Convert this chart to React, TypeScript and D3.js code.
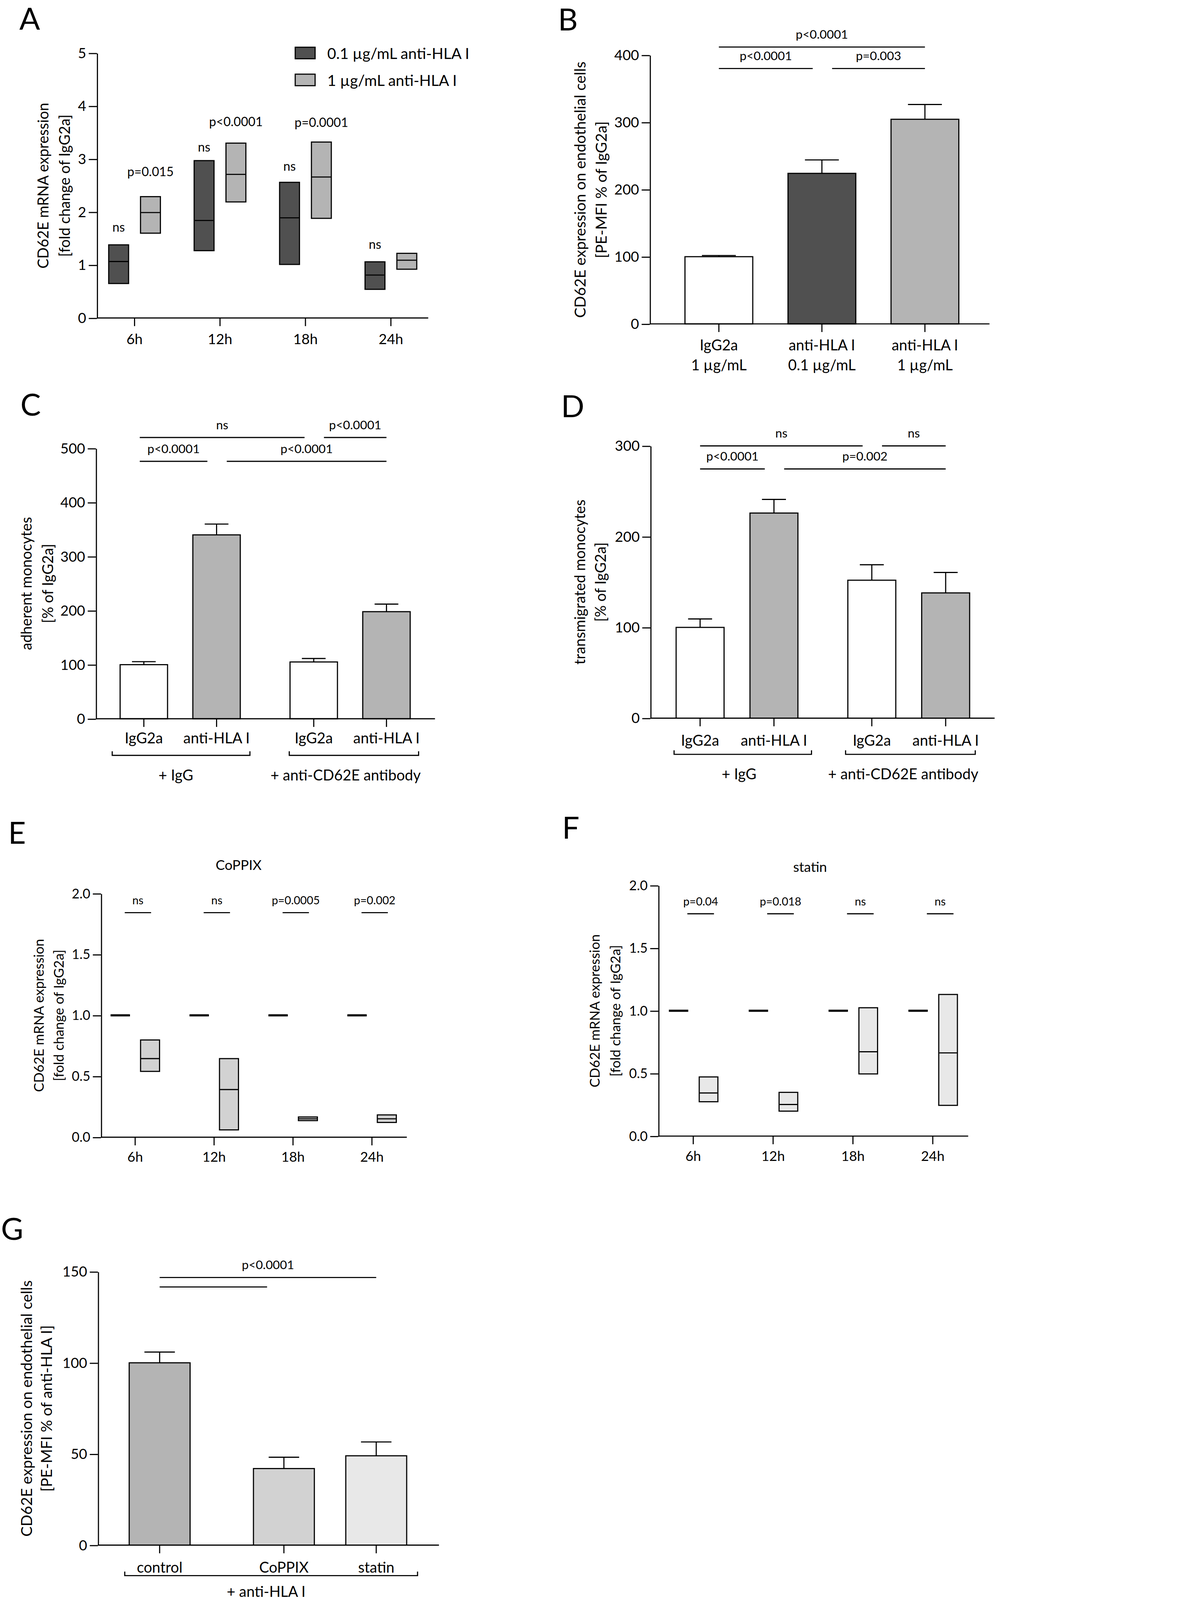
import React, { useEffect, useRef } from 'react';
import * as d3 from 'd3';

// ---------- data ----------
const timepoints = ['6h', '12h', '18h', '24h'];

// A: CD62E mRNA, floating bars (min / median / max)
const aLegend = ['0.1 µg/mL anti-HLA I', '1 µg/mL anti-HLA I'];
const aLowMin = [0.65, 1.27, 1.01, 0.54];
const aLowMedian = [1.065, 1.84, 1.89, 0.81];
const aLowMax = [1.38, 2.97, 2.56, 1.06];
const aHighMin = [1.6, 2.19, 1.88, 0.92];
const aHighMedian = [1.99, 2.71, 2.66, 1.09];
const aHighMax = [2.29, 3.3, 3.32, 1.22];
const aLowP = ['ns', 'ns', 'ns', 'ns'];
const aLowPLevel = [1.72, 3.23, 2.87, 1.4];
const aHighP = ['p=0.015', 'p<0.0001', 'p=0.0001', ''];
const aHighPLevel = [2.77, 3.71, 3.7, 0];
const aTicks = [0, 1, 2, 3, 4, 5];

// B: CD62E surface expression
const bLabels = [['IgG2a', '1 µg/mL'], ['anti-HLA I', '0.1 µg/mL'], ['anti-HLA I', '1 µg/mL']];
const bMeans = [100, 224, 304.5];
const bSem = [1.7, 20, 22];
const bTicks = [0, 100, 200, 300, 400];
const bSig = [
  { from: 0, to: 2, level: 412, label: 'p<0.0001' },
  { from: 0, to: 1, level: 380, label: 'p<0.0001' },
  { from: 1, to: 2, level: 380, label: 'p=0.003' },
];

// C: adherent monocytes
const cdLabels = ['IgG2a', 'anti-HLA I', 'IgG2a', 'anti-HLA I'];
const cdGroups = ['+ IgG', '+ anti-CD62E antibody'];
const cMeans = [100, 340, 105, 198];
const cSem = [5.5, 20, 6.4, 14];
const cTicks = [0, 100, 200, 300, 400, 500];
const cSig = [
  { from: 0, to: 2, level: 520, label: 'ns' },
  { from: 2, to: 3, level: 520, label: 'p<0.0001' },
  { from: 0, to: 1, level: 476, label: 'p<0.0001' },
  { from: 1, to: 3, level: 476, label: 'p<0.0001' },
];

// D: transmigrated monocytes
const dMeans = [100, 226, 152, 138];
const dSem = [9.3, 15, 17, 22.5];
const dTicks = [0, 100, 200, 300];
const dSig = [
  { from: 0, to: 2, level: 300, label: 'ns' },
  { from: 2, to: 3, level: 300, label: 'ns' },
  { from: 0, to: 1, level: 274.6, label: 'p<0.0001' },
  { from: 1, to: 3, level: 274.6, label: 'p=0.002' },
];

// E: CoPPIX
const efTicks = [0, 0.5, 1, 1.5, 2];
const eControl = [1, 1, 1, 1];
const eMin = [0.54, 0.06, 0.136, 0.121];
const eMedian = [0.645, 0.391, 0.151, 0.151];
const eMax = [0.798, 0.645, 0.166, 0.183];
const eP = ['ns', 'ns', 'p=0.0005', 'p=0.002'];
const eSigLevel = 1.843;

// F: statin
const fControl = [1, 1, 1, 1];
const fMin = [0.274, 0.199, 0.496, 0.245];
const fMedian = [0.344, 0.252, 0.673, 0.664];
const fMax = [0.472, 0.349, 1.024, 1.13];
const fP = ['p=0.04', 'p=0.018', 'ns', 'ns'];
const fSigLevel = 1.774;

// G: CD62E surface expression after treatment
const gLabels = ['control', 'CoPPIX', 'statin'];
const gMeans = [100, 42, 49];
const gSem = [5.9, 6.2, 7.6];
const gTicks = [0, 50, 100, 150];
const gSig = [
  { from: 0, to: 2, level: 146.8, label: 'p<0.0001' },
  { from: 0, to: 1, level: 141.6, label: '' },
];

// ---------- drawing ----------
const VW = 976;
const VH = (4871 * 976) / 3031;
const FONT = 'Lato, "Open Sans", sans-serif';
const DARK = '#505050';
const MID = '#b4b4b4';
const LIGHT = '#d2d2d2';
const PALE = '#e8e8e8';
const SW = 1.1;

type G = d3.Selection<SVGGElement, unknown, null, undefined>;
type Sig = { from: number; to: number; level: number; label: string };

function addText(g: G, x: number, y: number, s: string, size: number, anchor = 'middle') {
  return g.append('text')
    .attr('x', x).attr('y', y)
    .attr('text-anchor', anchor)
    .attr('dominant-baseline', 'central')
    .attr('font-family', FONT)
    .attr('font-size', size)
    .attr('fill', '#000')
    .text(s);
}

function panelLetter(g: G, x: number, baseline: number, s: string) {
  g.append('text').attr('x', x).attr('y', baseline)
    .attr('font-family', FONT).attr('font-size', 30).attr('fill', '#000').text(s);
}

function yAxis(g: G, y: d3.ScaleLinear<number, number>, ticks: number[], x0: number, fmt: (d: number) => string, size = 14) {
  const ax = g.append('g')
    .attr('transform', `translate(${x0},0)`)
    .call(d3.axisLeft(y).tickValues(ticks).tickSize(8).tickSizeOuter(0).tickPadding(2.5)
      .tickFormat((d) => fmt(+d)));
  ax.attr('font-family', FONT).attr('font-size', size);
  ax.selectAll('path, line').attr('stroke', '#000').attr('stroke-width', SW);
  ax.selectAll('text').attr('fill', '#000');
}

function xAxis(g: G, centers: number[], y0: number, x0: number, x1: number) {
  g.append('line').attr('x1', x0).attr('x2', x1).attr('y1', y0).attr('y2', y0)
    .attr('stroke', '#000').attr('stroke-width', SW);
  centers.forEach((c) => {
    g.append('line').attr('x1', c).attr('x2', c).attr('y1', y0).attr('y2', y0 + 8)
      .attr('stroke', '#000').attr('stroke-width', SW);
  });
}

function yTitle(g: G, lines: string[], xs: number[], cy: number, size = 14.5) {
  lines.forEach((s, i) => {
    g.append('text')
      .attr('transform', `translate(${xs[i]},${cy}) rotate(-90)`)
      .attr('text-anchor', 'middle').attr('dominant-baseline', 'central')
      .attr('font-family', FONT).attr('font-size', size).attr('fill', '#000')
      .text(s);
  });
}

function bars(g: G, centers: number[], means: number[], sems: number[], y: d3.ScaleLinear<number, number>, w: number, fills: string[]) {
  means.forEach((m, i) => {
    const c = centers[i];
    const top = y(m + sems[i]);
    g.append('line').attr('x1', c).attr('x2', c).attr('y1', y(m)).attr('y2', top)
      .attr('stroke', '#000').attr('stroke-width', SW);
    g.append('line').attr('x1', c - w / 4).attr('x2', c + w / 4).attr('y1', top).attr('y2', top)
      .attr('stroke', '#000').attr('stroke-width', SW);
    g.append('rect').attr('x', c - w / 2).attr('y', y(m)).attr('width', w).attr('height', y(0) - y(m))
      .attr('fill', fills[i]).attr('stroke', '#000').attr('stroke-width', SW);
  });
}

function floatBox(g: G, c: number, w: number, lo: number, med: number, hi: number, y: d3.ScaleLinear<number, number>, fill: string) {
  g.append('rect').attr('x', c - w / 2).attr('y', y(hi)).attr('width', w).attr('height', y(lo) - y(hi))
    .attr('fill', fill).attr('stroke', '#000').attr('stroke-width', SW);
  g.append('line').attr('x1', c - w / 2).attr('x2', c + w / 2).attr('y1', y(med)).attr('y2', y(med))
    .attr('stroke', '#000').attr('stroke-width', SW);
}

function sigLines(g: G, sigs: Sig[], xOf: (i: number) => number, y: d3.ScaleLinear<number, number>, size: number, endTrim: number[] = []) {
  sigs.forEach((s, k) => {
    const shareStart = sigs.some((o) => o !== s && o.level === s.level && o.to === s.from);
    const shareEnd = sigs.some((o) => o !== s && o.level === s.level && o.from === s.to);
    const x1 = xOf(s.from) + (shareStart ? 10 : 0);
    const x2 = xOf(s.to) - (shareEnd ? 9 : 0) - (endTrim[k] || 0);
    const yy = y(s.level);
    g.append('line').attr('x1', x1).attr('x2', x2).attr('y1', yy).attr('y2', yy)
      .attr('stroke', '#000').attr('stroke-width', SW);
    if (s.label) addText(g, (x1 + x2) / 2, yy - 12.7, s.label, size);
  });
}

function bracket(g: G, x1: number, x2: number, yb: number, label: string, ly: number, lx: number) {
  g.append('path')
    .attr('d', `M${x1},${yb - 4}V${yb}H${x2}V${yb - 4}`)
    .attr('fill', 'none').attr('stroke', '#000').attr('stroke-width', SW);
  addText(g, lx, ly, label, 14.5);
}

export default function App() {
  const svgRef = useRef<SVGSVGElement>(null);

  useEffect(() => {
    if (!svgRef.current) return;
    document.documentElement.style.overflow = 'hidden';
    document.body.style.margin = '0';
    const svg = d3.select(svgRef.current);
    svg.selectAll('*').remove();
    const root = svg.append('g') as unknown as G;

    // ---------- A ----------
    {
      const g = root.append('g') as G;
      panelLetter(g, 19, 29, 'A');
      const y = d3.scaleLinear().domain([0, 5]).range([311.7, 52]);
      const x = d3.scalePoint<string>().domain(timepoints).range([131.9, 383.2]);
      const off = 15.6;
      const w = 19.5;
      timepoints.forEach((t, i) => {
        const c = x(t)!;
        floatBox(g, c - off, w, aLowMin[i], aLowMedian[i], aLowMax[i], y, DARK);
        floatBox(g, c + off, w, aHighMin[i], aHighMedian[i], aHighMax[i], y, MID);
        if (aLowP[i]) addText(g, c - off, y(aLowPLevel[i]), aLowP[i], 12.3);
        if (aHighP[i]) addText(g, c + off, y(aHighPLevel[i]), aHighP[i], 12.3);
        addText(g, c, 332, t, 14);
      });
      yAxis(g, y, aTicks, 95, (d) => String(d));
      xAxis(g, timepoints.map((t) => x(t)!), y(0), 95, 419.8);
      yTitle(g, ['CD62E mRNA expression', '[fold change of IgG2a]'], [42, 63], 182);
      [DARK, MID].forEach((f, i) => {
        g.append('rect').attr('x', 289.4).attr('y', 46.3 + i * 26.4).attr('width', 19.5).attr('height', 11.3)
          .attr('fill', f).attr('stroke', '#000').attr('stroke-width', SW);
        addText(g, 320.8, 52 + i * 26.4, aLegend[i], 15, 'start');
      });
    }

    // ---------- B ----------
    {
      const g = root.append('g') as G;
      panelLetter(g, 547, 30, 'B');
      const y = d3.scaleLinear().domain([0, 400]).range([317.5, 54]);
      const idx = bLabels.map((_, i) => String(i));
      const x = d3.scaleBand<string>().domain(idx).range([654.2, 957.2]).paddingInner(0.342).paddingOuter(0.171);
      const cx = (i: number) => x(String(i))! + x.bandwidth() / 2;
      const centers = idx.map((_, i) => cx(i));
      bars(g, centers, bMeans, bSem, y, x.bandwidth(), ['#ffffff', DARK, MID]);
      yAxis(g, y, bTicks, 637, (d) => String(d));
      xAxis(g, centers, y(0), 637, 970);
      bLabels.forEach((l, i) => {
        addText(g, centers[i], 338, l[0], 14.5);
        addText(g, centers[i], 357.5, l[1], 14.5);
      });
      sigLines(g, bSig, cx, y, 12);
      yTitle(g, ['CD62E expression on endothelial cells', '[PE-MFI % of IgG2a]'], [568, 588.7], 186, 15);
    }

    // ---------- C and D ----------
    const slot = (i: number, gap: number) => i + (i >= 2 ? gap : 0);
    {
      const g = root.append('g') as G;
      panelLetter(g, 20, 407.6, 'C');
      const y = d3.scaleLinear().domain([0, 500]).range([704.6, 439.5]);
      const xs = d3.scaleLinear().domain([0, 1]).range([141, 212.3]);
      const cx = (i: number) => xs(slot(i, 0.336));
      const centers = cdLabels.map((_, i) => cx(i));
      bars(g, centers, cMeans, cSem, y, 46.5, ['#ffffff', MID, '#ffffff', MID]);
      yAxis(g, y, cTicks, 94, (d) => String(d));
      xAxis(g, centers, y(0), 94, 426.4);
      cdLabels.forEach((l, i) => addText(g, centers[i], 723, l, 14.5));
      sigLines(g, cSig, (i) => (i === 0 ? cx(i) - 4 : cx(i)), y, 12);
      bracket(g, centers[0] - 31, centers[1] + 32.7, 740.5, cdGroups[0], 759.4, 172.4);
      bracket(g, centers[2] - 24, centers[3] + 31.5, 740.5, cdGroups[1], 759.4, 338.8);
      yTitle(g, ['adherent monocytes', '[% of IgG2a]'], [25.5, 46.5], 572);
    }
    {
      const g = root.append('g') as G;
      panelLetter(g, 550, 408.8, 'D');
      const y = d3.scaleLinear().domain([0, 300]).range([704, 437.1]);
      const xs = d3.scaleLinear().domain([0, 1]).range([686.3, 758.7]);
      const cx = (i: number) => xs(slot(i, 0.325));
      const centers = cdLabels.map((_, i) => cx(i));
      bars(g, centers, dMeans, dSem, y, 47, ['#ffffff', MID, '#ffffff', MID]);
      yAxis(g, y, dTicks, 637.6, (d) => String(d));
      xAxis(g, centers, y(0), 637.6, 975);
      cdLabels.forEach((l, i) => addText(g, centers[i], 725.3, l, 14.5));
      sigLines(g, dSig, cx, y, 12);
      bracket(g, centers[0] - 25.5, centers[1] + 36.8, 739.5, cdGroups[0], 758.3, 724.5);
      bracket(g, centers[2] - 25.7, centers[3] + 29, 739.5, cdGroups[1], 758.3, 885.4);
      yTitle(g, ['transmigrated monocytes', '[% of IgG2a]'], [568, 588.3], 570.6);
    }

    // ---------- E and F ----------
    const controlPanel = (
      g: G, y: d3.ScaleLinear<number, number>, x: d3.ScalePoint<string>,
      ctrl: number[], lo: number[], med: number[], hi: number[], fill: string,
      p: string[], level: number, offC: number, offT: number, wT: number, lineL: number, lineR: number,
    ) => {
      timepoints.forEach((t, i) => {
        const c = x(t)!;
        g.append('line').attr('x1', c + offC - 9.5).attr('x2', c + offC + 9.5)
          .attr('y1', y(ctrl[i])).attr('y2', y(ctrl[i]))
          .attr('stroke', '#000').attr('stroke-width', 2.1);
        floatBox(g, c + offT, wT, lo[i], med[i], hi[i], y, fill);
        const yy = y(level);
        g.append('line').attr('x1', c + lineL).attr('x2', c + lineR).attr('y1', yy).attr('y2', yy)
          .attr('stroke', '#000').attr('stroke-width', SW);
        addText(g, c + (lineL + lineR) / 2, yy - 12.4, p[i], 11);
      });
    };
    {
      const g = root.append('g') as G;
      panelLetter(g, 8, 827, 'E');
      const y = d3.scaleLinear().domain([0, 2]).range([1114.8, 875.9]);
      const x = d3.scalePoint<string>().domain(timepoints).range([132.5, 364.6]);
      controlPanel(g, y, x, eControl, eMin, eMedian, eMax, LIGHT, eP, eSigLevel, -14.6, 14.6, 18.6, -10.2, 15.6);
      yAxis(g, y, efTicks, 99, d3.format('.1f'), 13);
      xAxis(g, timepoints.map((t) => x(t)!), y(0), 99, 398.8);
      timepoints.forEach((t) => addText(g, x(t)!, 1133.4, t, 13.4));
      addText(g, 233.9, 847.8, 'CoPPIX', 13.5);
      yTitle(g, ['CD62E mRNA expression', '[fold change of IgG2a]'], [37.5, 57], 995.4, 13.4);
    }
    {
      const g = root.append('g') as G;
      panelLetter(g, 551, 822.3, 'F');
      const y = d3.scaleLinear().domain([0, 2]).range([1113.7, 868]);
      const x = d3.scalePoint<string>().domain(timepoints).range([679.6, 914.4]);
      controlPanel(g, y, x, fControl, fMin, fMedian, fMax, PALE, fP, fSigLevel, -14.4, 15, 18.3, -5.8, 20.3);
      yAxis(g, y, efTicks, 645.4, d3.format('.1f'), 13);
      xAxis(g, timepoints.map((t) => x(t)!), y(0), 645.4, 949.1);
      timepoints.forEach((t) => addText(g, x(t)!, 1132.9, t, 13.4));
      addText(g, 794.1, 849.4, 'statin', 13.5);
      yTitle(g, ['CD62E mRNA expression', '[fold change of IgG2a]'], [582.5, 602.8], 990.9, 13.4);
    }

    // ---------- G ----------
    {
      const g = root.append('g') as G;
      panelLetter(g, 1, 1215.6, 'G');
      const y = d3.scaleLinear().domain([0, 150]).range([1514.7, 1246.6]);
      const xs = d3.scaleLinear().domain([0, 1]).range([156.5, 247]);
      const cx = (i: number) => xs(i + (i >= 1 ? 0.346 : 0));
      const centers = gLabels.map((_, i) => cx(i));
      bars(g, centers, gMeans, gSem, y, 59.7, [MID, LIGHT, PALE]);
      yAxis(g, y, gTicks, 96, (d) => String(d));
      xAxis(g, centers, y(0), 96, 430.3);
      gLabels.forEach((l, i) => addText(g, centers[i], 1536, l, 14.5));
      sigLines(g, gSig, cx, y, 12, [0, 16.5]);
      bracket(g, centers[0] - 34.2, centers[2] + 40.5, 1544.6, '+ anti-HLA I', 1560, 260.9);
      yTitle(g, ['CD62E expression on endothelial cells', '[PE-MFI % of anti-HLA I]'], [25.5, 45], 1380.7, 15);
    }
  }, []);

  // the capture viewport is shorter than the requested size, so scale the figure to fit it
  return (
    <svg
      ref={svgRef}
      viewBox={`0 0 ${VW} ${VH}`}
      preserveAspectRatio="xMinYMin meet"
      style={{ position: 'absolute', left: 0, top: 0, width: '100vw', height: '100vh', display: 'block', background: '#ffffff' }}
    />
  );
}
